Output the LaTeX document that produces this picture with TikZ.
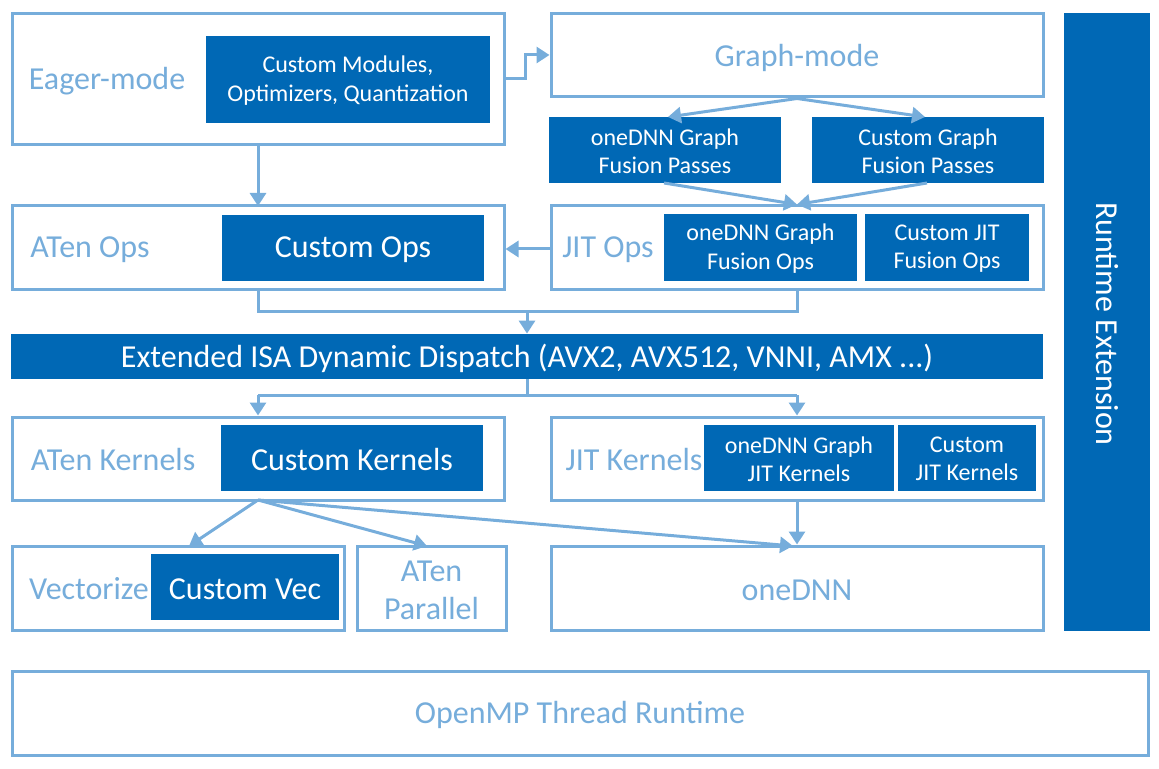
\documentclass[tikz,border=0pt]{standalone}
\usepackage{fontspec}
\setmainfont{Carlito}
\usetikzlibrary{fit,arrows.meta}
\definecolor{dblue}{HTML}{0068B5}
\definecolor{lblue}{HTML}{76ADDB}
\begin{document}
\begin{tikzpicture}[x=0.5pt,y=-0.5pt,
  outerbox/.style={draw=lblue, line width=1.5pt, inner sep=0pt, fill=white},
  darkbox/.style={fill=dblue, inner sep=0pt},
  biglbl/.style={text=lblue, font=\fontsize{16}{19}\selectfont, align=center, inner sep=0pt, yshift=-1pt},
  bigw/.style={text=white, font=\fontsize{16}{19}\selectfont, align=center, inner sep=0pt, yshift=-1pt},
  smallw/.style={text=white, font=\fontsize{12}{14.2}\selectfont, align=center, inner sep=0pt, yshift=-0.5pt},
  conn/.style={draw=lblue, line width=1.5pt},
  arr/.style={conn, -{Triangle[width=8pt,length=6.5pt]}}]
\useasboundingbox (0,0) rectangle (1159,769);
% outer boxes
\node[outerbox, fit={(12,14) (504,145)}] (eager) {};
\node[outerbox, fit={(551,14) (1043,97)}] (graph) {};
\node[outerbox, fit={(12,206) (504,290)}] (atenops) {};
\node[outerbox, fit={(551,206) (1043,290)}] (jitops) {};
\node[outerbox, fit={(12,417) (504,500)}] (atenk) {};
\node[outerbox, fit={(551,417) (1043,500)}] (jitk) {};
\node[outerbox, fit={(12,546) (344,630)}] (vect) {};
\node[outerbox, fit={(357,546) (506,630)}] (par) {};
\node[outerbox, fit={(551,546) (1043,630)}] (onednn) {};
\node[outerbox, fit={(12,671) (1148,755)}] (openmp) {};
% dark boxes
\node[darkbox, fit={(206,36) (490,123)}] (custmod) {};
\node[darkbox, fit={(549,117) (781,183)}] (gfp1) {};
\node[darkbox, fit={(812,117) (1044,183)}] (gfp2) {};
\node[darkbox, fit={(222,215) (484,281)}] (custops) {};
\node[darkbox, fit={(664,214) (857,281)}] (jfo1) {};
\node[darkbox, fit={(865,214) (1029,281)}] (jfo2) {};
\node[darkbox, fit={(11,334) (1043,379)}] (dispatch) {};
\node[darkbox, fit={(221,425) (483,491)}] (custk) {};
\node[darkbox, fit={(704,425) (894,491)}] (jk1) {};
\node[darkbox, fit={(898,425) (1036,491)}] (jk2) {};
\node[darkbox, fit={(151,554) (339,620)}] (custvec) {};
\node[darkbox, fit={(1064,13) (1150,631)}] (runtime) {};
% labels
\node[biglbl] (eagerlbl) at (107,79) {Eager-mode};
\node[smallw] (custmodlbl) at (custmod) {Custom Modules,\\Optimizers, Quantization};
\node[biglbl] (graphlbl) at (graph) {Graph-mode};
\node[smallw] (gfp1lbl) at (gfp1) {oneDNN Graph\\Fusion Passes};
\node[smallw] (gfp2lbl) at (gfp2) {Custom Graph\\Fusion Passes};
\node[biglbl] (atenopslbl) at (90,248) {ATen Ops};
\node[bigw] (custopslbl) at (custops) {Custom Ops};
\node[biglbl] (jitopslbl) at (608,248) {JIT Ops};
\node[smallw] (jfo1lbl) at (jfo1) {oneDNN Graph\\Fusion Ops};
\node[smallw] (jfo2lbl) at (jfo2) {Custom JIT\\Fusion Ops};
\node[bigw] (dispatchlbl) at (dispatch) {Extended ISA Dynamic Dispatch (AVX2, AVX512, VNNI, AMX ...)};
\node[biglbl] (atenklbl) at (113,458) {ATen Kernels};
\node[bigw] (custklbl) at (custk) {Custom Kernels};
\node[biglbl] (jitklbl) at (634,458) {JIT Kernels};
\node[smallw] (jk1lbl) at (jk1) {oneDNN Graph\\JIT Kernels};
\node[smallw] (jk2lbl) at (jk2) {Custom\\JIT Kernels};
\node[biglbl] (vectlbl) at (89,587) {Vectorize};
\node[bigw] (custveclbl) at (custvec) {Custom Vec};
\node[biglbl] (parlbl) at (par) {ATen\\Parallel};
\node[biglbl] (onednnlbl) at (onednn) {oneDNN};
\node[biglbl] (openmplbl) at (openmp) {OpenMP Thread Runtime};
\node[bigw, rotate=-90, yshift=0pt] (runtimelbl) at (runtime) {Runtime Extension};
% connectors
\coordinate (e1) at (525,79);
\coordinate (e2) at (525,55);
\draw[arr] (eager.east |- e1) -- (e1) -- (e2) -- (graph.west |- e2);
\draw[arr] (258,145) -- (258,206);
\draw[arr] (graph.south) -- (668,117);
\draw[arr] (graph.south) -- (925,117);
\draw[arr] (664,183) -- (jitops.north);
\draw[arr] (927,183) -- (jitops.north);
\draw[arr] (jitops.west |- 0,249) -- (atenops.east |- 0,249);
\coordinate (m1) at (258,312);
\coordinate (m2) at (797,312);
\coordinate (m3) at (527,312);
\draw[conn] (258,290) -- (m1) -- (m2) -- (jitops.south);
\draw[arr] (m3) -- (dispatch.north -| m3);
\coordinate (d1) at (527,395);
\coordinate (d2) at (258,395);
\coordinate (d3) at (797,395);
\draw[conn] (dispatch.south -| d1) -- (d1);
\draw[conn] (d2) -- (d3);
\draw[arr] (d2) -- (atenk.north -| d2);
\draw[arr] (d3) -- (jitk.north -| d3);
\coordinate (k0) at (258,500);
\draw[arr] (k0) -- (189,546);
\draw[arr] (k0) -- (427,546);
\draw[arr] (k0) -- (793,546);
\draw[arr] (jitk.south) -- (onednn.north);
\end{tikzpicture}
\end{document}
